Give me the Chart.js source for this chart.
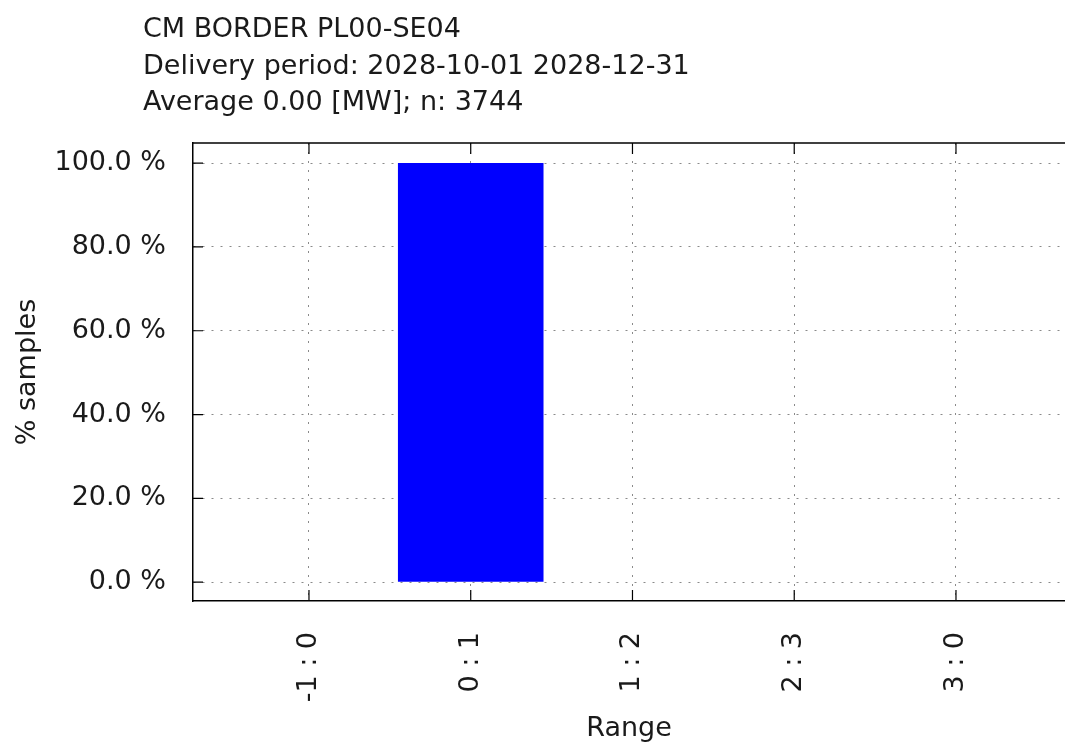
<!DOCTYPE html>
<html>
<head>
<meta charset="utf-8">
<script src="https://cdn.jsdelivr.net/npm/chart.js@4.4.1/dist/chart.umd.min.js"></script>
<style>
  html, body { margin: 0; padding: 0; background: #fff; }
  #wrap { width: 1065px; height: 747px; position: relative; }
</style>
</head>
<body>
<div id="wrap"><canvas id="histChart"></canvas></div>
<script>
const titleLines = [
  'CM BORDER PL00-SE04',
  'Delivery period: 2028-10-01 2028-12-31',
  'Average 0.00 [MW]; n: 3744'
];
const rangeLabels = ['-1 : 0', '0 : 1', '1 : 2', '2 : 3', '3 : 0'];
const rangePositions = [0, 1, 2, 3, 4];
const samplePct = [0, 100, 0, 0, 0];
const yTickValues = [0, 20, 40, 60, 80, 100];

const FONT = 'DejaVu Sans';
const TEXT = '#1a1a1a';

const points = [];
for (let i = 0; i < rangePositions.length; i++) {
  points.push({ x: rangePositions[i], y: samplePct[i] });
}

// gnuplot style frame: title block, top border and inward tick marks
const gnuFrame = {
  id: 'gnuFrame',
  afterDraw(chart) {
    const c = chart.ctx;
    const a = chart.chartArea;
    const xs = chart.scales.x, ys = chart.scales.y;
    c.save();
    c.fillStyle = TEXT;
    c.font = '27px "' + FONT + '"';
    c.textAlign = 'left';
    c.textBaseline = 'alphabetic';
    titleLines.forEach((t, i) => c.fillText(t, 143, 37 + i * 36.5));

    c.strokeStyle = '#000';
    c.lineWidth = 1.5;
    c.beginPath();
    c.moveTo(a.left, a.top);
    c.lineTo(a.right, a.top);
    c.stroke();

    c.lineWidth = 1.2;
    c.beginPath();
    rangePositions.forEach(v => {
      const px = xs.getPixelForValue(v);
      c.moveTo(px, a.bottom); c.lineTo(px, a.bottom - 11);
      c.moveTo(px, a.top); c.lineTo(px, a.top + 11);
    });
    yTickValues.forEach(v => {
      const py = ys.getPixelForValue(v);
      c.moveTo(a.left, py); c.lineTo(a.left + 10, py);
    });
    c.stroke();
    c.restore();
  }
};

const ctx = document.getElementById('histChart');
const myChart = new Chart(ctx, {
  type: 'bar',
  data: {
    datasets: [{
      label: '% samples',
      data: points,
      backgroundColor: '#0000ff',
      borderWidth: 0,
      barPercentage: 0.9,
      categoryPercentage: 1.0
    }]
  },
  options: {
    responsive: true,
    maintainAspectRatio: false,
    animation: false,
    layout: { padding: { top: 143, left: 0, right: 0, bottom: 0 } },
    plugins: {
      legend: { display: false },
      title: { display: false },
      tooltip: { enabled: false }
    },
    scales: {
      x: {
        type: 'linear',
        offset: false,
        min: -0.717,
        max: 4.674,
        afterBuildTicks: s => { s.ticks = rangePositions.map(v => ({ value: v })); },
        afterFit: s => { s.height = 146; },
        grid: { offset: false, color: '#8a8a8a', lineWidth: 1, drawTicks: false },
        border: { display: true, color: '#000', width: 1.5, dash: [2, 7] },
        ticks: {
          color: TEXT,
          font: { family: FONT, size: 27 },
          autoSkip: false,
          minRotation: 90,
          maxRotation: 90,
          padding: 31,
          callback: (v, i) => rangeLabels[i]
        },
        title: {
          display: true,
          text: 'Range',
          color: TEXT,
          font: { family: FONT, size: 27 },
          padding: { top: 0, bottom: 2 }
        }
      },
      y: {
        min: -4.5,
        max: 104.8,
        afterBuildTicks: s => { s.ticks = yTickValues.map(v => ({ value: v })); },
        afterFit: s => { s.width = 193; },
        grid: { color: '#8a8a8a', lineWidth: 1, drawTicks: false },
        border: { display: true, color: '#000', width: 1.5, dash: [2, 7] },
        ticks: {
          color: TEXT,
          font: { family: FONT, size: 27 },
          padding: 27,
          callback: v => v.toFixed(1) + ' %'
        },
        title: {
          display: true,
          text: '% samples',
          color: TEXT,
          font: { family: FONT, size: 27 },
          padding: { top: 12, bottom: 0 }
        }
      }
    }
  },
  plugins: [gnuFrame]
});
</script>
</body>
</html>
